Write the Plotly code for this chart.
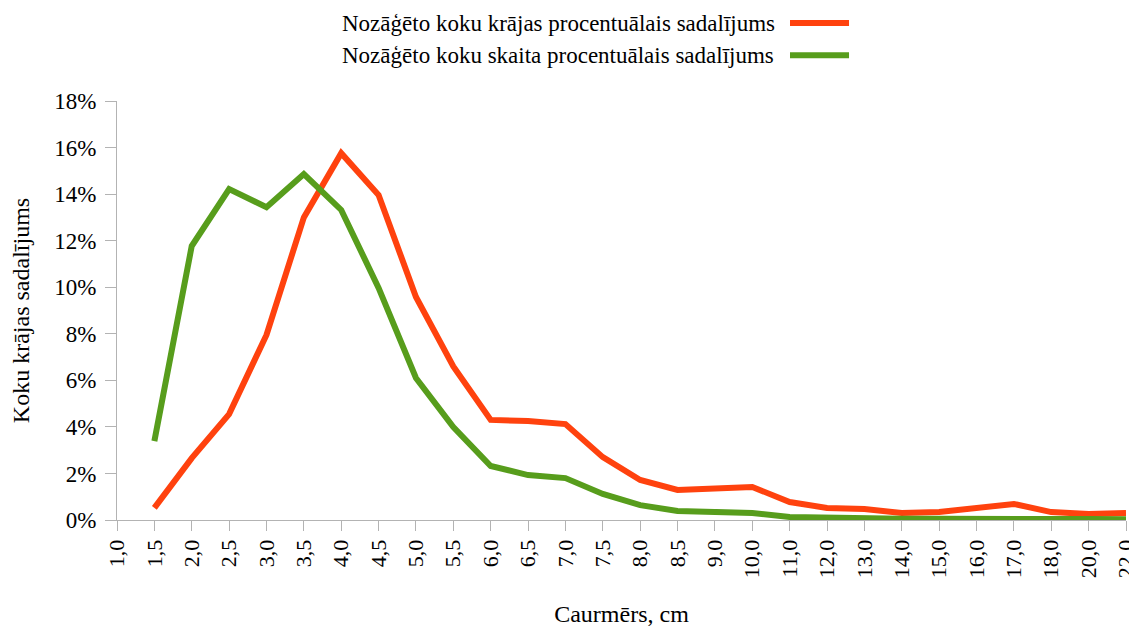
import plotly.graph_objects as go

categories = ["1,0", "1,5", "2,0", "2,5", "3,0", "3,5", "4,0", "4,5", "5,0", "5,5",
              "6,0", "6,5", "7,0", "7,5", "8,0", "8,5", "9,0", "10,0", "11,0", "12,0",
              "13,0", "14,0", "15,0", "16,0", "17,0", "18,0", "20,0", "22,0"]

kraja_pct = [None, 0.52, 2.66, 4.55, 7.95, 13.0, 15.76, 13.96, 9.58, 6.6,
             4.3, 4.25, 4.12, 2.7, 1.72, 1.29, 1.37, 1.42, 0.77, 0.52,
             0.47, 0.3, 0.34, 0.52, 0.69, 0.34, 0.26, 0.3]

skaits_pct = [None, 3.39, 11.77, 14.22, 13.44, 14.86, 13.32, 9.97, 6.1, 3.99,
              2.32, 1.93, 1.8, 1.12, 0.64, 0.39, 0.34, 0.3, 0.13, 0.09,
              0.08, 0.05, 0.05, 0.06, 0.08, 0.04, 0.04, 0.03]

series_names = ["Nozāģēto koku krājas procentuālais sadalījums",
                "Nozāģēto koku skaita procentuālais sadalījums"]
colors = ["#ff420e", "#579d1c"]

FONT = "Liberation Serif"

fig = go.Figure()
for name, vals, col in zip(series_names, [kraja_pct, skaits_pct], colors):
    fig.add_trace(go.Scatter(
        x=categories,
        y=[None if v is None else v / 100 for v in vals],
        mode="lines", name=name,
        line=dict(color=col, width=6),
        showlegend=False,
    ))

# Legend (text with line swatch to the right, like the original)
legend_y = [1.186, 1.109]
for name, col, ly in zip(series_names, colors, legend_y):
    fig.add_annotation(xref="paper", yref="paper", x=0.221, y=ly,
                       text=name, showarrow=False, xanchor="left", yanchor="middle",
                       font=dict(family=FONT, size=23, color="#000"))
    fig.add_shape(type="line", xref="paper", yref="paper",
                  x0=0.667, x1=0.7255, y0=ly, y1=ly,
                  line=dict(color=col, width=6))

# page body has an 8px default margin; size the figure so it fits the window
fig.update_layout(
    width=1129, height=619,
    margin=dict(l=109, r=11, t=93, b=107),
    paper_bgcolor="white", plot_bgcolor="white",
    font=dict(family=FONT, size=23, color="#000"),
    xaxis=dict(
        type="category", categoryorder="array", categoryarray=categories,
        range=[0, len(categories) - 1], automargin=False,
        showgrid=False, zeroline=False,
        showline=True, linecolor="#b3b3b3", linewidth=1,
        ticks="outside", ticklen=10, tickcolor="#b3b3b3",
        tickangle=-90, tickfont=dict(family=FONT, size=22),
        title=dict(text="Caurmērs, cm", font=dict(family=FONT, size=24), standoff=28),
    ),
    yaxis=dict(
        range=[0, 0.18], dtick=0.02, tickformat=".0%", automargin=False,
        showgrid=False, zeroline=False,
        showline=True, linecolor="#b3b3b3", linewidth=1,
        ticks="outside", ticklen=11, tickcolor="#b3b3b3",
        ticklabelstandoff=4,
        tickfont=dict(family=FONT, size=23),
        title=dict(text="Koku krājas sadalījums", font=dict(family=FONT, size=24), standoff=20),
    ),
)

fig.write_html("out.html")
